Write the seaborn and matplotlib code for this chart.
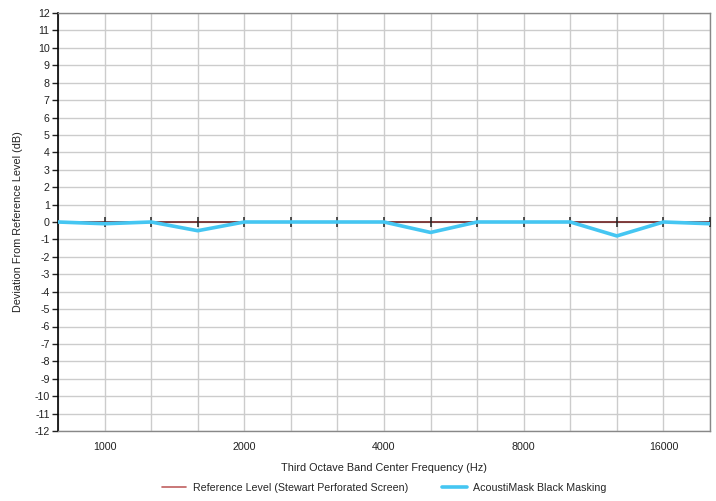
import numpy as np
import pandas as pd
import matplotlib
matplotlib.use("Agg")
import matplotlib.pyplot as plt
import seaborn as sns

freqs = ["800", "1000", "1250", "1600", "2000", "2500", "3150", "4000",
         "5000", "6300", "8000", "10000", "12500", "16000", "20000"]
reference = [0, 0, 0, 0, 0, 0, 0, 0, 0, 0, 0, 0, 0, 0, 0]
acoustimask = [0, -0.1, 0, -0.5, 0, 0, 0, 0, -0.6, 0, 0, 0, -0.8, 0, -0.1]
shown_labels = ["1000", "2000", "4000", "8000", "16000"]
ref_name = "Reference Level (Stewart Perforated Screen)"
am_name = "AcoustiMask Black Masking"

sns.set_theme(style="white")
plt.rcParams['font.family'] = ['Liberation Sans', 'DejaVu Sans']
plt.rcParams['axes.unicode_minus'] = False

df = pd.DataFrame({"idx": np.arange(len(freqs)), "freq": freqs,
                   "ref": reference, "am": acoustimask})

fig = plt.figure(figsize=(7.16, 5.01), dpi=100)
ax = fig.add_axes([58/716, 1-431/501, (710-58)/716, (431-13)/501])

sns.lineplot(data=df, x="idx", y="ref", ax=ax, color="#6e1f1f", lw=1.2,
             marker="|", markersize=7, markeredgewidth=1.1, markeredgecolor="#222222",
             label=ref_name, zorder=3)
sns.lineplot(data=df, x="idx", y="am", ax=ax, color="#45c6f2", lw=2.6,
             label=am_name, zorder=4)

ax.set_xlim(0, len(freqs)-1)
ax.set_ylim(-12, 12)
ax.set_yticks(range(-12, 13))
ax.set_xticks(df["idx"])
ax.set_xticklabels([f if f in shown_labels else "" for f in freqs])
ax.grid(True, color="#cccccc", lw=1)
ax.tick_params(axis="x", length=0, labelsize=7.7, pad=8, colors="#222222")
ax.tick_params(axis="y", length=4, width=1, direction="out", labelsize=7.7, pad=2,
               left=True, colors="#222222")
for s in ["top", "right", "bottom"]:
    ax.spines[s].set_color("#888888")
    ax.spines[s].set_linewidth(1)
ax.spines["left"].set_color("#000000")
ax.spines["left"].set_linewidth(1.2)

ax.set_xlabel("Third Octave Band Center Frequency (Hz)", fontsize=7.8, labelpad=8, color="#222222")
ax.set_ylabel("Deviation From Reference Level (dB)", fontsize=7.8, labelpad=8, color="#222222")

h, l = ax.get_legend_handles_labels()
h[0] = matplotlib.lines.Line2D([], [], color="#c06060", lw=1.2)
ax.legend(h, l, loc="center", bbox_to_anchor=(0.5, (1-488/501 - (1-431/501)) / ((431-13)/501)),
          ncol=2, frameon=False, fontsize=7.7, handlelength=2.3, handletextpad=0.6,
          columnspacing=3.2)

fig.savefig("out.png", dpi=100)
